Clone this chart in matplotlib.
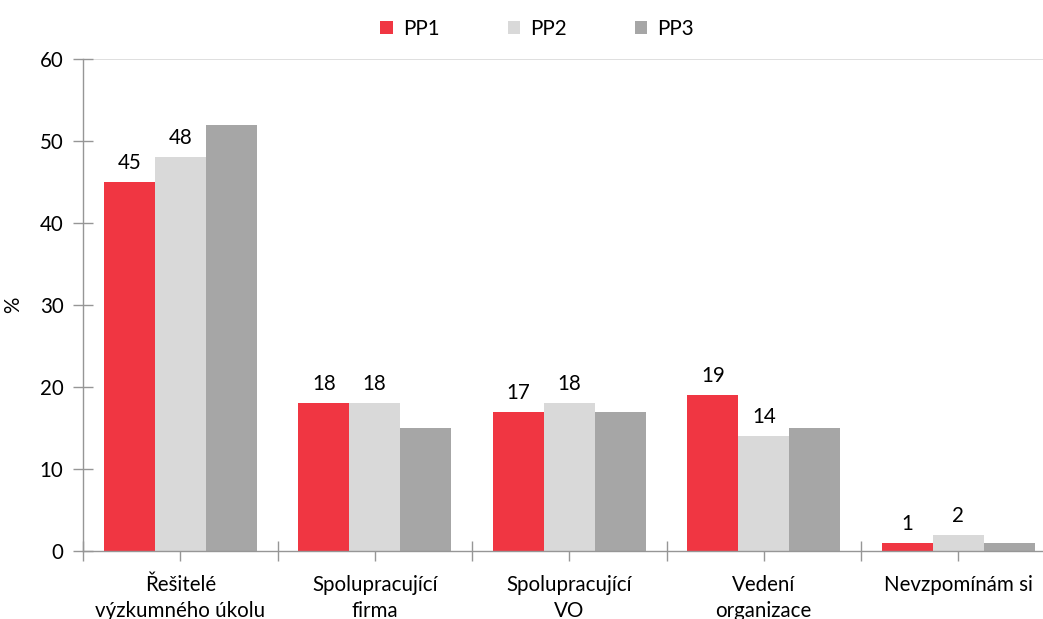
import matplotlib
matplotlib.use("Agg")
import matplotlib.pyplot as plt
import numpy as np
from matplotlib.patches import Patch

categories = ["Řešitelé\nvýzkumného úkolu", "Spolupracující\nfirma", "Spolupracující\nVO", "Vedení\norganizace", "Nevzpomínám si"]
series_names = ["PP1", "PP2", "PP3"]
pp1 = [45, 18, 17, 19, 1]
pp2 = [48, 18, 18, 14, 2]
pp3 = [52, 15, 17, 15, 1]
yticks = [0, 10, 20, 30, 40, 50, 60]

colors = ["#F03642", "#D9D9D9", "#A6A6A6"]
plt.rcParams['font.family'] = ['Lato', 'DejaVu Sans']
FS = 14.8

fig = plt.figure(figsize=(10.43, 6.19), dpi=100)
W, H = 1043, 619
unit_px = 194.5
x0 = 83
x1 = x0 + 5 * unit_px
y0, y1 = 551, 59
ax = fig.add_axes([x0 / W, 1 - y0 / H, (x1 - x0) / W, (y0 - y1) / H])

x = np.arange(len(categories))
bw = 0.262
series = [pp1, pp2, pp3]
for i, (vals, c) in enumerate(zip(series, colors)):
    bars = ax.bar(x + (i - 1) * bw, vals, width=bw, color=c, zorder=2)
    if i < 2:
        for b, v in zip(bars, vals):
            ax.text(b.get_x() + b.get_width() / 2, v + 1.1, str(v), ha='center', va='bottom',
                    fontsize=FS, color='#000000')

ax.set_xlim(-0.5, 4.5)
ax.set_ylim(0, 60)
ax.set_yticks(yticks)
ax.set_yticklabels([str(t) for t in yticks], fontsize=FS)
ax.axhline(60, color='#D9D9D9', lw=1.2, zorder=1)

major = np.arange(-0.5, 5.0, 1.0)
ax.set_xticks(list(major) + list(x))
ax.set_xticklabels([""] * len(major) + categories, fontsize=FS, linespacing=1.4)
ax.tick_params(axis='x', direction='inout', length=14, width=1, color='#969696', pad=10)
ax.tick_params(axis='y', direction='inout', length=14, width=1, color='#969696', pad=7)

for s in ['top', 'right']:
    ax.spines[s].set_visible(False)
for s in ['left', 'bottom']:
    ax.spines[s].set_color('#969696')
    ax.spines[s].set_linewidth(1)

ax.set_ylabel('%', fontsize=FS, labelpad=12)

handles = [Patch(facecolor=c, edgecolor='none') for c in colors]
fig.legend(handles, series_names, loc='upper center', bbox_to_anchor=(0.515, 1.0), ncol=3,
           frameon=False, fontsize=FS, handlelength=0.6, handleheight=0.6,
           handletextpad=0.5, columnspacing=3.3)

fig.savefig("out.png", dpi=100)
